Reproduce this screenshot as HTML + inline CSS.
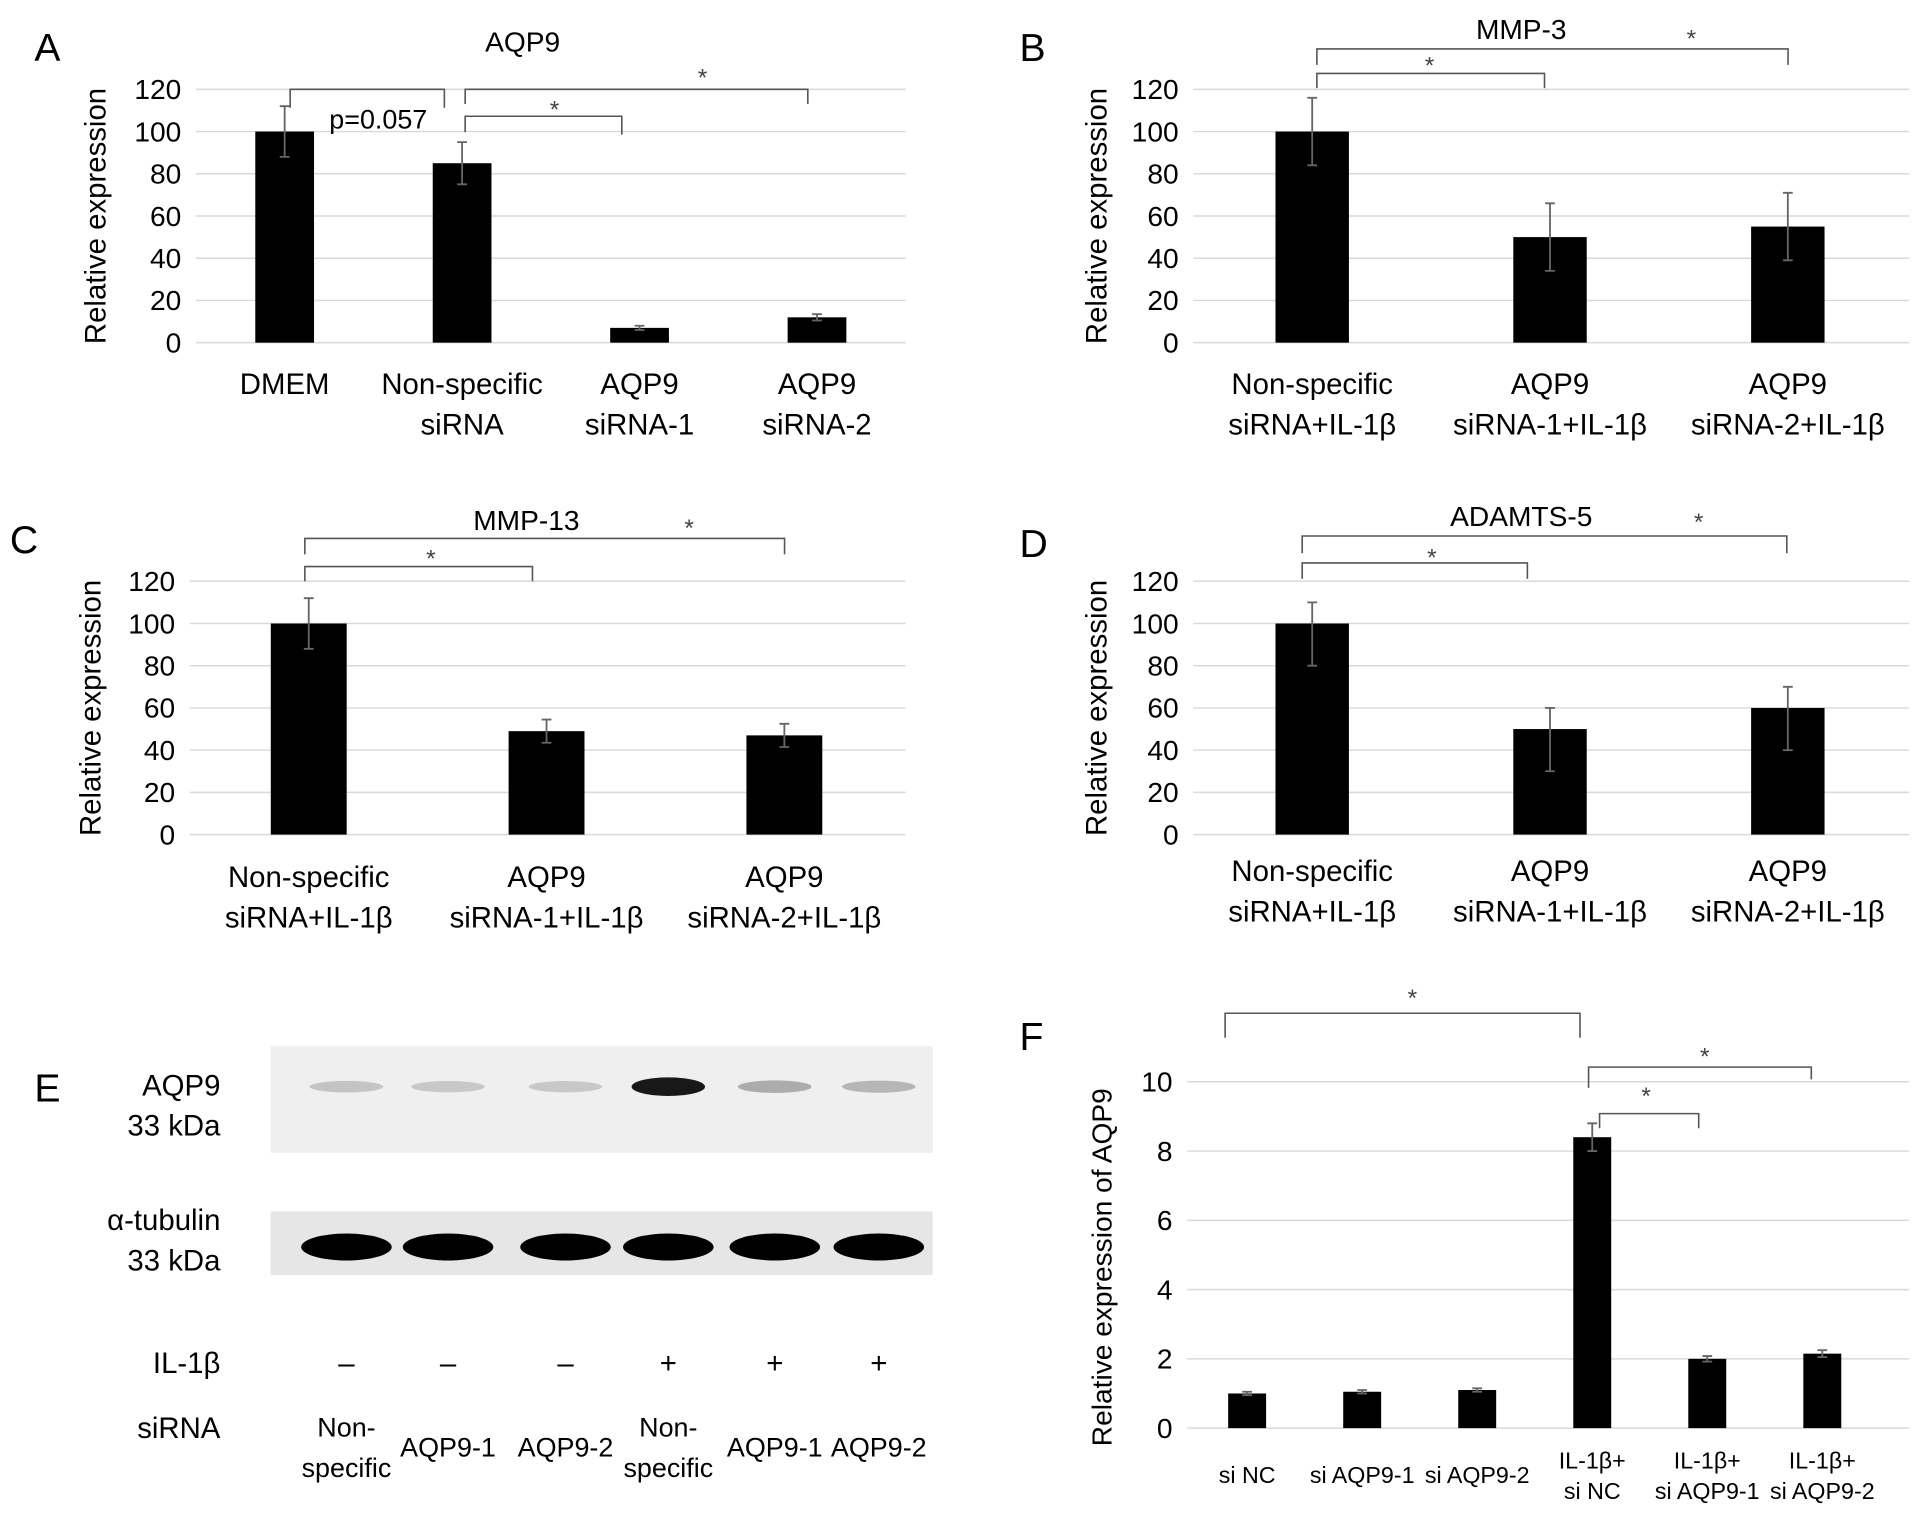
<!DOCTYPE html>
<html><head><meta charset="utf-8"><style>
html,body{margin:0;padding:0;background:#fff;}
svg{display:block;font-family:"Liberation Sans",Arial,sans-serif;}
</style></head><body>
<svg id="fig" width="1913" height="1515" viewBox="0 0 1563 1238" xmlns="http://www.w3.org/2000/svg">
<rect width="1563" height="1238" fill="#fff"/>
<g>
<text x="28" y="900" font-size="32">E</text>
<rect x="221" y="855" width="541" height="87" fill="#efefef"/>
<rect x="221" y="990" width="541" height="52" fill="#e6e6e6"/>
<g fill="#000" font-size="24" text-anchor="end">
<text x="180" y="895">AQP9</text><text x="180" y="928">33 kDa</text>
<text x="180" y="1005">α-tubulin</text><text x="180" y="1038">33 kDa</text>
<text x="180" y="1122">IL-1β</text><text x="180" y="1175">siRNA</text>
</g>
<g id="lanes" font-size="22" text-anchor="middle"></g>
</g>
<g id="charts"></g>
</svg>
<script>
const NS="http://www.w3.org/2000/svg";
const svg=document.getElementById('fig');
function el(tag,attrs,parent,text){const e=document.createElementNS(NS,tag);for(const k in attrs)e.setAttribute(k,attrs[k]);if(text!==undefined)e.textContent=text;(parent||svg).appendChild(e);return e;}

const aCats=[["DMEM"],["Non-specific","siRNA"],["AQP9","siRNA-1"],["AQP9","siRNA-2"]];
const aVals=[100,85,7,12];
const aErrHi=[12,10,1,1.5];
const aErrLo=[12,10,1,1.5];
const il1Cats=[["Non-specific","siRNA+IL-1β"],["AQP9","siRNA-1+IL-1β"],["AQP9","siRNA-2+IL-1β"]];
const bVals=[100,50,55];
const bErrHi=[16,16,16];
const bErrLo=[16,16,16];
const cVals=[100,49,47];
const cErrHi=[12,5.5,5.5];
const cErrLo=[12,5.5,5.5];
const dVals=[100,50,60];
const dErrHi=[10,10,10];
const dErrLo=[20,20,20];
const yTicks120=[0,20,40,60,80,100,120];
const fCats=[["si NC"],["si AQP9-1"],["si AQP9-2"],["IL-1β+","si NC"],["IL-1β+","si AQP9-1"],["IL-1β+","si AQP9-2"]];
const fVals=[1.0,1.05,1.1,8.4,2.0,2.15];
const fErrHi=[0.05,0.05,0.05,0.4,0.08,0.1];
const fErrLo=[0.05,0.05,0.05,0.4,0.08,0.1];
const yTicksF=[0,2,4,6,8,10];
const laneIL=["–","–","–","+","+","+"];
const laneSi=[["Non-","specific"],["AQP9-1"],["AQP9-2"],["Non-","specific"],["AQP9-1"],["AQP9-2"]];
const aqpBand=[0.18,0.16,0.16,0.9,0.28,0.24];

function chart(o){
  const g=el('g',{},document.getElementById('charts'));
  
  
  const y=v=>o.y0-(v/o.ymax)*(o.y0-o.yTop);
  const n=o.vals.length;
  const x=i=>o.xL+(i+0.5)*(o.xR-o.xL)/n;
  o.ticks.forEach(t=>{
    const gl=el('line',{x1:o.gridL||o.xL,x2:o.gridR||o.xR,y1:y(t),y2:y(t),stroke:'#d9d9d9','stroke-width':1.2},g);
    
    
    const tl=el('text',{x:(o.gridL||o.xL)-12,y:y(t)+8,'font-size':o.tfs||23,'text-anchor':'end'},g,String(t));
    
    
  });
  o.vals.forEach((v,i)=>{
    const b=el('rect',{x:x(i)-o.bw/2,y:y(v),width:o.bw,height:o.y0-y(v),fill:'#000'},g);
    
    
    const hi=o.errHi[i],lo=o.errLo[i];
    const eb=el('path',{d:`M${x(i)},${y(v+hi)}V${y(v-lo)}M${x(i)-4},${y(v+hi)}H${x(i)+4}M${x(i)-4},${y(v-lo)}H${x(i)+4}`,stroke:'#666','stroke-width':1.5,fill:'none'},g);
    
    
    const parts=o.cats[i];
    parts.forEach((s,j)=>{
      const yy=(o.single!==undefined&&parts.length===1)?o.single:o.labY+j*o.labDy;
      const cl=el('text',{x:x(i),y:yy,'font-size':o.lfs||24,'text-anchor':'middle'},g,s);
      
      
    });
  });
  const yt=el('text',{transform:`translate(${o.ytX},${(o.y0+o.yTop)/2+(o.ytOff||0)}) rotate(-90)`,'font-size':o.yfs||24,'text-anchor':'middle'},g,o.ytitle);
  
  
  if(o.title){const tt=el('text',{x:o.titleX,y:o.titleY,'font-size':23,'text-anchor':'middle'},g,o.title);
    
    }
  const pl=el('text',{x:o.letter[1],y:o.letter[2],'font-size':32},g,o.letter[0]);
  
  
  (o.brackets||[]).forEach(br=>{
    const [x1,x2,top,d1,d2,sx,sy,txt]=br;
    const p=el('path',{d:`M${x1},${d1}V${top}H${x2}V${d2}`,stroke:'#555','stroke-width':1.3,fill:'none'},g);
    
    
    const st=el('text',{x:sx,y:sy,'font-size':txt?22:20,'text-anchor':'middle',fill:txt?'#000':'#444'},g,txt||'*');
    
    
  });
}

chart({name:'chart-a-aqp9',cats:aCats,vals:aVals,errHi:aErrHi,errLo:aErrLo,ticks:yTicks120,ymax:120,y0:280,yTop:73,xL:160,xR:740,bw:48,
  labY:322,labDy:33,ytX:86,ytitle:'Relative expression',title:'AQP9',titleX:427,titleY:42,letter:['A',28,50],
  brackets:[[237,363,73,88,88,0,0,''],[380,508,95,108,110,453,96],[380,660,73,85,85,574,70]]});
(()=>{const t=el('text',{x:309,y:105,'font-size':22,'text-anchor':'middle'},svg,'p=0.057');

})();

chart({name:'chart-b-mmp3',cats:il1Cats,vals:bVals,errHi:bErrHi,errLo:bErrLo,ticks:yTicks120,ymax:120,y0:280,yTop:73,xL:975,xR:1558,gridR:1560,bw:60,
  labY:322,labDy:33,ytX:904,ytitle:'Relative expression',title:'MMP-3',titleX:1243,titleY:32,letter:['B',833,50],
  brackets:[[1076,1262,60,72,72,1168,60],[1076,1461,40,53,53,1382,38]]});

chart({name:'chart-c-mmp13',cats:il1Cats,vals:cVals,errHi:cErrHi,errLo:cErrLo,ticks:yTicks120,ymax:120,y0:682,yTop:475,xL:155,xR:738,gridR:740,bw:62,
  labY:725,labDy:33,ytX:82,ytitle:'Relative expression',title:'MMP-13',titleX:430,titleY:433,letter:['C',8,452],
  brackets:[[249,435,463,475,475,352,463],[249,641,440,453,453,563,438]]});

chart({name:'chart-d-adamts5',cats:il1Cats,vals:dVals,errHi:dErrHi,errLo:dErrLo,ticks:yTicks120,ymax:120,y0:682,yTop:475,xL:975,xR:1558,gridR:1560,bw:60,
  labY:720,labDy:33,ytX:904,ytitle:'Relative expression',title:'ADAMTS-5',titleX:1243,titleY:430,letter:['D',833,455],
  brackets:[[1064,1248,460,473,473,1170,462],[1064,1460,438,452,452,1388,433]]});

chart({name:'chart-f-aqp9-expression',cats:fCats,vals:fVals,errHi:fErrHi,errLo:fErrLo,ticks:yTicksF,ymax:10,y0:1167,yTop:884,xL:972,xR:1536,gridL:970,gridR:1560,bw:31,
  labY:1200,labDy:25,single:1212,lfs:19,ytX:908,yfs:23,ytOff:10,ytitle:'Relative expression of AQP9',letter:['F',833,858],
  brackets:[[1001,1291,828,848,848,1154,822],[1298,1480,872,889,882,1393,870],[1307,1388,910,922,922,1345,902]]});

const lanesG=document.getElementById('lanes');
const laneX=[283,366,462,546,633,718];
laneX.forEach((lx,i)=>{
  const a=aqpBand[i];
  const b1=el('ellipse',{cx:lx,cy:888,rx:30,ry:4+4*a,fill:'#000','fill-opacity':a},svg);
  
  
  const b2=el('ellipse',{cx:lx,cy:1019,rx:37,ry:11,fill:'#000'},svg);
  
  
  const s=el('text',{x:lx,y:1122,'font-size':24,'text-anchor':'middle'},lanesG,laneIL[i]);
  
  
  const parts=laneSi[i];
  parts.forEach((p,j)=>{
    const t=el('text',{x:lx,y:(parts.length===1?1190:1174+j*33),'font-size':22,'text-anchor':'middle'},lanesG,p);
    
    
  });
});
</script>
</body></html>
